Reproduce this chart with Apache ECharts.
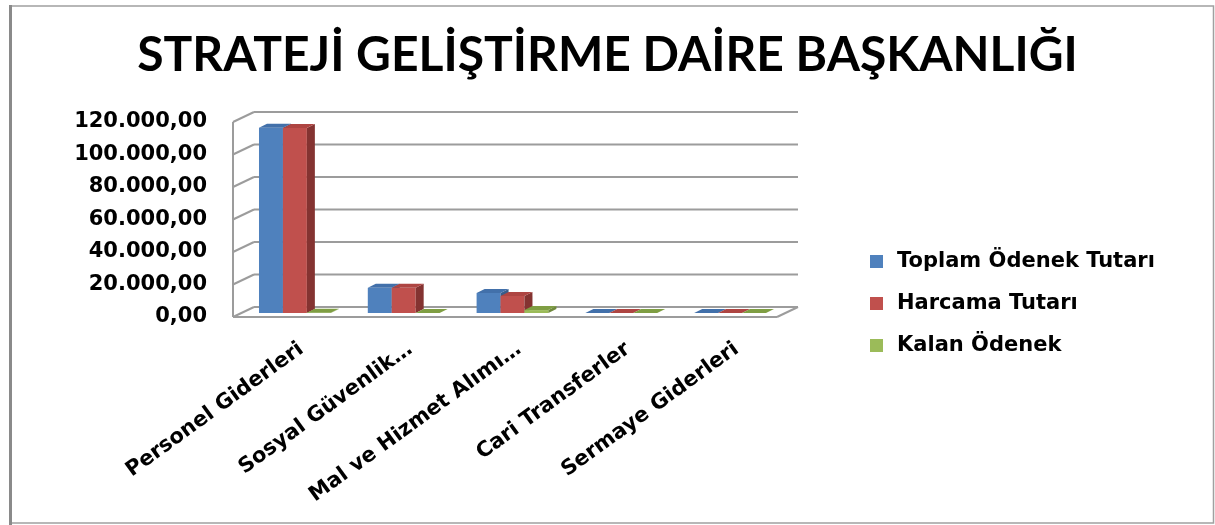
<!DOCTYPE html>
<html>
<head>
<meta charset="utf-8">
<script src="https://cdn.jsdelivr.net/npm/echarts@6/dist/echarts.min.js"></script>
<style>
  html, body { margin: 0; padding: 0; background: #ffffff; }
  #chart { width: 1215px; height: 525px; }
</style>
</head>
<body>
<div id="chart"></div>
<script>
// Budget figures by expense category (TL)
const categories = ['Personel Giderleri', 'Sosyal Güvenlik…', 'Mal ve Hizmet Alımı…', 'Cari Transferler', 'Sermaye Giderleri'];
const toplamOdenek = [114000, 15500, 12300, 0, 0];
const harcamaTutari = [113800, 15500, 10500, 0, 0];
const kalanOdenek = [200, 0, 1800, 0, 0];
const seriesNames = ['Toplam Ödenek Tutarı', 'Harcama Tutarı', 'Kalan Ödenek'];
const yTicks = [0, 20000, 40000, 60000, 80000, 100000, 120000];

// face colours: front, side, top
const palette = [
  { front: '#4F81BD', side: '#385D8A', top: '#4270AA' },
  { front: '#C0504D', side: '#843331', top: '#AE4542' },
  { front: '#9BBB59', side: '#6F893D', top: '#7F9E43' }
];

// oblique projection offsets for the 3D look
const WALL = [21, -10];      // depth of the floor / back wall
const BAR_FRONT = [7.5, -4]; // bars sit a little behind the front edge
const BAR_DEPTH = [8, -4];   // thickness of each bar
const BAR_SHARE = 0.22;      // bar width as a share of the category band

// plot box (front plane of the 3D floor)
const PLOT = { left: 233, top: 122, width: 544, height: 195 };
// category labels are anchored under the middle of the bar depth
const LABEL_SHIFT = 14;

function fmtTR(v) {
  return Math.round(v).toString().replace(/\B(?=(\d{3})+(?!\d))/g, '.') + ',00';
}

const FONT = 'DejaVu Sans';

function wallItem(params, api) {
  const cs = params.coordSys;
  const left = cs.x, right = cs.x + cs.width;
  const tick = api.value(1);
  const y = api.coord([0, tick])[1];
  const st = { stroke: '#9c9c9c', lineWidth: 2 };
  const children = [
    { type: 'line', shape: { x1: left, y1: y, x2: left + WALL[0], y2: y + WALL[1] }, style: st },
    { type: 'line', shape: { x1: left + WALL[0], y1: y + WALL[1], x2: right + WALL[0], y2: y + WALL[1] }, style: st }
  ];
  if (tick === 0) {
    const yTop = api.coord([0, yTicks[yTicks.length - 1]])[1];
    children.push(
      { type: 'line', shape: { x1: left, y1: y, x2: right, y2: y }, style: st },
      { type: 'line', shape: { x1: right, y1: y, x2: right + WALL[0], y2: y + WALL[1] }, style: st },
      { type: 'line', shape: { x1: left, y1: y, x2: left, y2: yTop }, style: st }
    );
  }
  return { type: 'group', children: children };
}

function makeBarSeries(k, values) {
  const c = palette[k];
  return {
    name: seriesNames[k],
    type: 'custom',
    z: 3,
    clip: false,
    itemStyle: { color: c.front },
    encode: { x: 0, y: 1 },
    data: values.map((v, i) => [i, v]),
    renderItem: function (params, api) {
      const cat = api.value(0), val = api.value(1);
      const base = api.coord([cat, 0]);
      const top = api.coord([cat, val]);
      const bw = api.size([1, 0])[0] * BAR_SHARE;
      const x0 = base[0] + (k - 1.5) * bw + BAR_FRONT[0];
      const x1 = x0 + bw;
      const yB = base[1] + BAR_FRONT[1];
      const yT = top[1] + BAR_FRONT[1];
      const dx = BAR_DEPTH[0], dy = BAR_DEPTH[1];
      const children = [];
      if (yB - yT > 0.3) {
        children.push({ type: 'rect', shape: { x: x0, y: yT, width: bw, height: yB - yT }, style: { fill: c.front } });
        children.push({ type: 'polygon', shape: { points: [[x1, yB], [x1 + dx, yB + dy], [x1 + dx, yT + dy], [x1, yT]] }, style: { fill: c.side } });
      }
      children.push({ type: 'polygon', shape: { points: [[x0, yT], [x0 + dx, yT + dy], [x1 + dx, yT + dy], [x1, yT]] }, style: { fill: c.top } });
      return { type: 'group', children: children };
    }
  };
}

const chart = echarts.init(document.getElementById('chart'), null, { renderer: 'canvas' });

const hiddenAxisParts = {
  axisLine: { show: false },
  axisTick: { show: false },
  splitLine: { show: false }
};

chart.setOption({
  animation: false,
  backgroundColor: '#ffffff',
  title: {
    text: 'STRATEJİ GELİŞTİRME DAİRE BAŞKANLIĞI',
    left: 'center',
    top: 27,
    textStyle: { fontFamily: 'Lato', fontWeight: 'bold', fontSize: 48, color: '#000000' }
  },
  graphic: [
    { type: 'rect', shape: { x: 10.5, y: 6, width: 1203, height: 517 }, style: { fill: 'none', stroke: '#a0a0a0', lineWidth: 1.5 }, z: 0 },
    { type: 'line', shape: { x1: 10.5, y1: 5, x2: 10.5, y2: 525 }, style: { stroke: '#8a8a8a', lineWidth: 3 }, z: 0 }
  ],
  legend: {
    data: seriesNames,
    orient: 'vertical',
    left: 865,
    top: 246,
    icon: 'rect',
    itemWidth: 13,
    itemHeight: 13,
    itemGap: 21,
    textStyle: { fontFamily: FONT, fontWeight: 'bold', fontSize: 21, color: '#000000', padding: [0, 0, 0, 9] }
  },
  grid: [
    { left: PLOT.left, top: PLOT.top, width: PLOT.width, height: PLOT.height },
    { left: PLOT.left + LABEL_SHIFT, top: PLOT.top, width: PLOT.width, height: PLOT.height }
  ],
  xAxis: [
    Object.assign({ type: 'category', gridIndex: 0, data: categories, axisLabel: { show: false } }, hiddenAxisParts),
    Object.assign({
      type: 'category',
      gridIndex: 1,
      data: categories,
      axisLabel: {
        interval: 0,
        rotate: 36,
        margin: 30,
        fontFamily: FONT,
        fontWeight: 'bold',
        fontSize: 21,
        color: '#000000'
      }
    }, hiddenAxisParts)
  ],
  yAxis: [
    Object.assign({
      type: 'value',
      gridIndex: 0,
      min: 0,
      max: 120000,
      interval: 20000,
      axisLabel: {
        margin: 26,
        padding: [4, 0, 0, 0],
        formatter: fmtTR,
        fontFamily: FONT,
        fontWeight: 'bold',
        fontSize: 21,
        color: '#000000'
      }
    }, hiddenAxisParts),
    Object.assign({ type: 'value', gridIndex: 1, min: 0, max: 120000, interval: 20000, axisLabel: { show: false } }, hiddenAxisParts)
  ],
  series: [
    {
      name: 'walls',
      type: 'custom',
      z: 1,
      clip: false,
      silent: true,
      encode: { x: 0, y: 1 },
      data: yTicks.map(t => [0, t]),
      renderItem: wallItem
    },
    makeBarSeries(0, toplamOdenek),
    makeBarSeries(1, harcamaTutari),
    makeBarSeries(2, kalanOdenek)
  ]
});
</script>
</body>
</html>
